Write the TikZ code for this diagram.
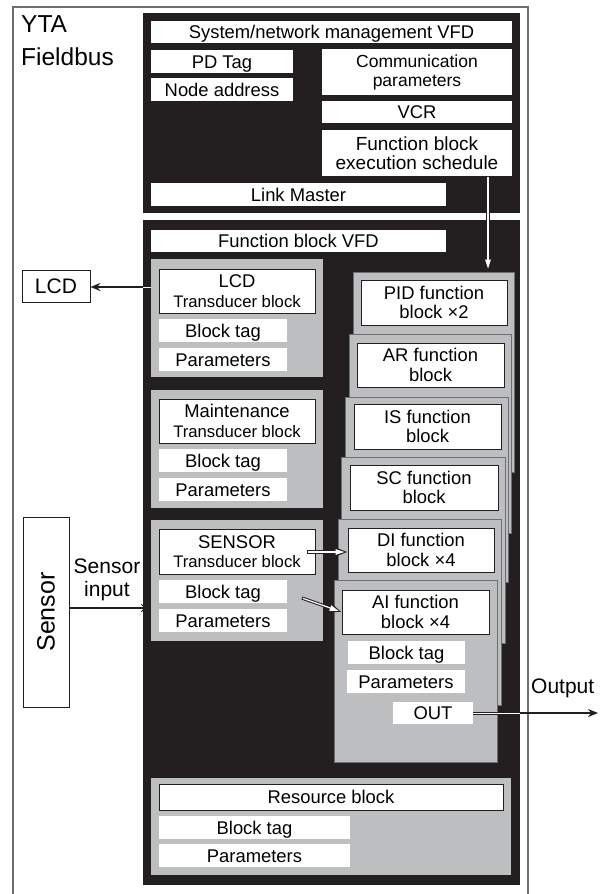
\documentclass[tikz,border=0pt]{standalone}
\usepackage{fontspec}
\setmainfont{Liberation Sans}
\usetikzlibrary{arrows.meta}
\definecolor{blk}{HTML}{231F20}
\definecolor{pgray}{HTML}{BCBEC0}
\definecolor{fgray}{HTML}{6D6E71}
\tikzset{
  fs/.style={font=\fontsize{18.4}{19.5}\selectfont},
  wbox/.style={fill=white, inner sep=0pt, fs, align=center},
  one/.style={text height=13pt, text depth=0pt},
  obox/.style={wbox, draw=blk, line width=0.9pt},
  dpanel/.style={fill=blk, inner sep=0pt},
  gpanel/.style={fill=pgray, inner sep=0pt},
  fpanel/.style={fill=pgray, draw=fgray, line width=0.7pt, inner sep=0pt},
  framestyle/.style={draw=fgray, line width=1.2pt},
  warrowout/.style={line width=3.2pt, draw=blk, -{Triangle[length=13pt,width=9pt]}},
  warrowin/.style={line width=1.2pt, draw=white, -{Triangle[length=9pt,width=5.5pt]}, shorten >=3pt, shorten <=1pt},
  barrow/.style={line width=1.6pt, draw=blk, -{Stealth[length=10pt,width=8pt]}},
  lbl/.style={inner sep=0pt, font=\fontsize{21}{23}\selectfont, align=center},
}
% \bx{style}{name}{x1}{y1}{x2}{y2}{text}
\newcommand\bx[7]{\node[#1, minimum width={#5-#3}, minimum height={#6-#4}] (#2) at ({(#3+#5)/2},{(#4+#6)/2}) {#7};}
\newcommand\tdb{{\fontsize{16.7}{19}\selectfont Transducer block}}
\begin{document}
\begin{tikzpicture}[x=1pt,y=-1pt]
\useasboundingbox (0,0) rectangle (606,894);
\draw[framestyle] (13,894) -- (13,7) -- (528,7) -- (528,894);

\node[inner sep=0pt, anchor=base west, font=\fontsize{24.5}{33}\selectfont] (yta) at (21,32.5) {YTA};
\node[inner sep=0pt, anchor=base west, font=\fontsize{24.5}{33}\selectfont] (fbus) at (21,65.5) {Fieldbus};

% upper black block
\bx{dpanel}{dark1}{143}{13}{520}{213}{}
\bx{wbox,one}{sys}{151}{21}{512}{43}{System/network management VFD}
\bx{wbox,one}{pdtag}{151}{50}{293}{73}{PD Tag}
\bx{wbox,one}{naddr}{151}{78}{293}{101}{Node address}
\bx{wbox,font=\fontsize{17.5}{19}\selectfont}{comm}{322}{49}{512}{95}{Communication\\parameters}
\bx{wbox,one}{vcr}{322}{101}{512}{123}{VCR}
\bx{wbox,font=\fontsize{19}{19.5}\selectfont}{fbes}{322}{130}{512}{176}{Function block\\execution schedule}
\bx{wbox,one}{lm}{151}{183}{446}{206}{Link Master}

% lower black block
\bx{dpanel}{dark2}{143}{220}{520}{885}{}
\bx{wbox,one}{fbvfd}{151}{230}{446}{252}{Function block VFD}

% LCD transducer
\bx{gpanel}{lcdp}{151}{259}{323}{377}{}
\bx{obox}{lcdtb}{159}{269}{315}{313}{LCD\\\tdb}
\bx{wbox,one}{bt1}{159}{319}{287}{342}{Block tag}
\bx{wbox,one}{par1}{159}{348}{287}{371}{Parameters}

% Maintenance transducer
\bx{gpanel}{mp}{151}{390}{323}{508}{}
\bx{obox}{mtb}{159}{399}{315}{443}{Maintenance\\\tdb}
\bx{wbox,one}{bt2}{159}{449}{287}{472}{Block tag}
\bx{wbox,one}{par2}{159}{478}{287}{501}{Parameters}

% Sensor transducer
\bx{gpanel}{sp}{151}{520}{323}{641}{}
\bx{obox}{stb}{159}{529}{315}{574}{SENSOR\\\tdb}
\bx{wbox,one}{bt3}{159}{580}{287}{603}{Block tag}
\bx{wbox,one}{par3}{159}{609}{287}{632}{Parameters}

% function block stack
\bx{fpanel}{pidp}{353}{272}{514}{472}{}
\bx{obox}{pid}{361}{280}{507}{325}{PID function\\block ×2}
\bx{fpanel}{arp}{349}{334}{511}{533}{}
\bx{obox}{ar}{357}{343}{504}{387}{AR function\\block}
\bx{fpanel}{isp}{345}{397}{508}{582}{}
\bx{obox}{is}{354}{404}{501}{449}{IS function\\block}
\bx{fpanel}{scp}{341}{457}{505}{643}{}
\bx{obox}{sc}{350}{465}{498}{510}{SC function\\block}
\bx{fpanel}{dip}{338}{519}{501}{705}{}
\bx{obox}{di}{348}{528}{494}{572}{DI function\\block ×4}
\bx{fpanel}{aip}{334}{580}{497}{762}{}
\bx{obox}{ai}{342}{590}{489}{634}{AI function\\block ×4}
\bx{wbox,one}{bt4}{348}{641}{465}{664}{Block tag}
\bx{wbox,one}{par4}{347}{670}{465}{693}{Parameters}
\bx{wbox,one}{out}{393}{702}{473}{724}{OUT}

% resource block
\bx{gpanel}{rp}{151}{778}{511}{875}{}
\bx{obox,one}{res}{159}{784}{503}{810}{Resource block}
\bx{wbox,one}{bt5}{159}{816}{350}{839}{Block tag}
\bx{wbox,one}{par5}{159}{844}{350}{867}{Parameters}

% outside elements
\bx{obox,font=\fontsize{21}{23}\selectfont,text height=15pt,text depth=0pt}{lcd}{22}{270}{90}{302}{LCD}
\bx{obox}{sensor}{23}{517}{69}{707}{}
\node[rotate=90, inner sep=0pt, font=\fontsize{25}{28}\selectfont] (sensortxt) at (sensor.center) {Sensor};
\node[lbl] (sinlbl) at (107,580) {Sensor\\input};
\node[lbl, anchor=base west] (outlbl) at (531,693) {Output};

% connectors
\coordinate (vs) at (488,176);
\draw[warrowout] (vs) -- (vs |- pidp.north);
\draw[warrowin] (vs) -- (vs |- pidp.north);

\coordinate (ls) at (151,287);
\draw[barrow] (ls) -- (ls -| lcd.east);
\draw[line width=3pt, draw=blk] (ls) -- (ls -| dark2.west);
\draw[line width=1pt, draw=white] (ls) -- (ls -| dark2.west);

\coordinate (sin) at (69,608);
\draw[barrow] (sin) -- (sin -| sp.west);

\coordinate (distart) at (307,552);
\draw[warrowout] (distart) -- (distart -| di.west);
\draw[warrowin] (distart) -- (distart -| di.west);

\coordinate (aistart) at (302,598);
\draw[warrowout] (aistart) -- (ai.west);
\draw[warrowin] (aistart) -- (ai.west);

\coordinate (outend) at (598,713);
\draw[barrow] (out.east) -- (outend);
\draw[line width=3pt, draw=blk] (out.east) -- (out.east -| dark2.east);
\draw[line width=1pt, draw=white] (out.east) -- (out.east -| dark2.east);
\end{tikzpicture}
\end{document}
